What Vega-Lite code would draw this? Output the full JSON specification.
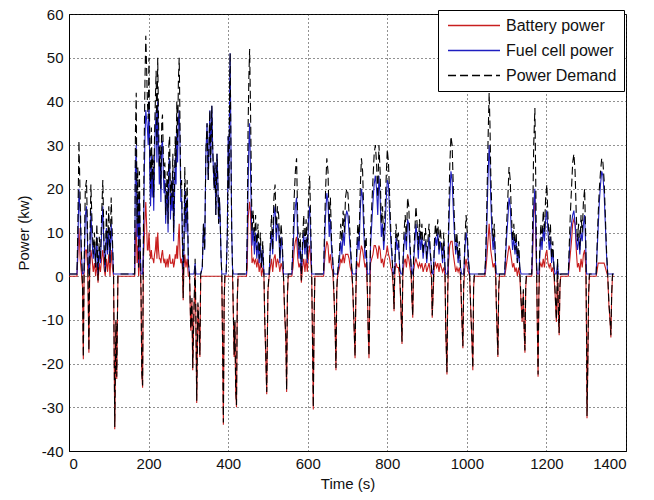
{
 "$schema": "https://vega.github.io/schema/vega-lite/v6.json",
 "width": 557,
 "height": 437,
 "autosize": {"type": "none"},
 "padding": {"left": 69, "top": 14, "right": 28, "bottom": 49},
 "background": "white",
 "config": {"font": "Liberation Sans", "view": {"stroke": "black", "strokeWidth": 1}},
 "data": {"values": [
{"t":0,"b":0,"f":0.5,"d":0.5},
{"t":20,"b":0,"f":0.5,"d":0.5},
{"t":22,"b":4,"f":6,"d":10},
{"t":25,"b":11,"f":20,"d":31},
{"t":28,"b":4,"f":14,"d":18},
{"t":31,"b":1,"f":5,"d":6},
{"t":34,"b":-2.5,"f":0.5,"d":-2},
{"t":36,"b":-19,"f":0.5,"d":-18.5},
{"t":38,"b":1,"f":1,"d":2},
{"t":41,"b":6,"f":14,"d":20},
{"t":44,"b":6,"f":16,"d":22},
{"t":47,"b":2,"f":6,"d":8},
{"t":50,"b":-17.5,"f":0.5,"d":-17},
{"t":52,"b":1,"f":3,"d":4},
{"t":55,"b":6,"f":15,"d":21},
{"t":58,"b":4,"f":8,"d":12},
{"t":61,"b":1,"f":4,"d":5},
{"t":64,"b":3,"f":7,"d":10},
{"t":67,"b":0,"f":2,"d":2},
{"t":70,"b":3,"f":9,"d":12},
{"t":73,"b":-1.5,"f":0.5,"d":-1},
{"t":76,"b":3,"f":6,"d":9},
{"t":79,"b":1,"f":3,"d":4},
{"t":82,"b":4,"f":10,"d":14},
{"t":85,"b":6,"f":16,"d":22},
{"t":88,"b":2,"f":6,"d":8},
{"t":91,"b":0,"f":1,"d":1},
{"t":94,"b":4,"f":11,"d":15},
{"t":97,"b":1,"f":5,"d":6},
{"t":100,"b":5,"f":11,"d":16},
{"t":103,"b":0,"f":3,"d":3},
{"t":106,"b":6,"f":12,"d":18},
{"t":109,"b":2,"f":7,"d":9},
{"t":112,"b":0,"f":0.5,"d":0.5},
{"t":115,"b":-35,"f":0.5,"d":-34.5},
{"t":118,"b":-10.5,"f":0.5,"d":-10},
{"t":120,"b":-23.5,"f":0.5,"d":-23},
{"t":123,"b":0,"f":0.5,"d":0.5},
{"t":165,"b":0,"f":0.5,"d":0.5},
{"t":167,"b":8,"f":25,"d":33},
{"t":169,"b":12,"f":30,"d":42},
{"t":171,"b":3,"f":9,"d":12},
{"t":173,"b":7,"f":18,"d":25},
{"t":175,"b":0,"f":2,"d":2},
{"t":177,"b":6,"f":18,"d":24},
{"t":179,"b":2,"f":6,"d":8},
{"t":181,"b":-3.5,"f":0.5,"d":-3},
{"t":183,"b":-22.5,"f":0.5,"d":-22},
{"t":185,"b":-25.5,"f":0.5,"d":-25},
{"t":187,"b":4,"f":6,"d":10},
{"t":189,"b":8,"f":22,"d":30},
{"t":191,"b":13,"f":32,"d":45},
{"t":193,"b":17,"f":38,"d":55},
{"t":195,"b":12,"f":36,"d":48},
{"t":197,"b":6,"f":34,"d":40},
{"t":199,"b":6,"f":30,"d":36},
{"t":201,"b":10,"f":40,"d":50},
{"t":203,"b":6,"f":24,"d":30},
{"t":205,"b":4,"f":16,"d":20},
{"t":207,"b":6,"f":28,"d":34},
{"t":209,"b":4,"f":18,"d":22},
{"t":211,"b":4,"f":24,"d":28},
{"t":213,"b":3,"f":15,"d":18},
{"t":215,"b":5,"f":27,"d":32},
{"t":217,"b":6,"f":34,"d":40},
{"t":219,"b":9,"f":38,"d":47},
{"t":221,"b":4,"f":26,"d":30},
{"t":223,"b":10,"f":40,"d":50},
{"t":225,"b":6,"f":30,"d":36},
{"t":227,"b":4,"f":21,"d":25},
{"t":229,"b":4,"f":26,"d":30},
{"t":231,"b":3,"f":17,"d":20},
{"t":233,"b":5,"f":30,"d":35},
{"t":235,"b":6,"f":31,"d":37},
{"t":237,"b":4,"f":24,"d":28},
{"t":239,"b":3,"f":19,"d":22},
{"t":241,"b":4,"f":22,"d":26},
{"t":243,"b":2,"f":12,"d":14},
{"t":245,"b":3,"f":17,"d":20},
{"t":247,"b":4,"f":20,"d":24},
{"t":249,"b":2,"f":10,"d":12},
{"t":251,"b":4,"f":26,"d":30},
{"t":253,"b":5,"f":27,"d":32},
{"t":255,"b":3,"f":13,"d":16},
{"t":257,"b":3,"f":19,"d":22},
{"t":259,"b":3,"f":15,"d":18},
{"t":261,"b":4,"f":24,"d":28},
{"t":263,"b":2,"f":8,"d":10},
{"t":265,"b":3,"f":17,"d":20},
{"t":267,"b":5,"f":27,"d":32},
{"t":269,"b":4,"f":21,"d":25},
{"t":271,"b":7,"f":33,"d":40},
{"t":273,"b":4,"f":26,"d":30},
{"t":275,"b":9,"f":36,"d":45},
{"t":277,"b":12,"f":38,"d":50},
{"t":279,"b":5,"f":30,"d":35},
{"t":281,"b":3,"f":17,"d":20},
{"t":283,"b":4,"f":18,"d":22},
{"t":285,"b":2,"f":8,"d":10},
{"t":287,"b":-5.5,"f":0.5,"d":-5},
{"t":289,"b":2,"f":6,"d":8},
{"t":291,"b":5,"f":20,"d":25},
{"t":294,"b":2,"f":10,"d":12},
{"t":297,"b":4,"f":18,"d":22},
{"t":300,"b":0,"f":3,"d":3},
{"t":303,"b":0,"f":0.5,"d":0.5},
{"t":306,"b":-12.5,"f":0.5,"d":-12},
{"t":309,"b":-5.5,"f":0.5,"d":-5},
{"t":311,"b":-21.5,"f":0.5,"d":-21},
{"t":314,"b":-8.5,"f":0.5,"d":-8},
{"t":317,"b":1,"f":3,"d":4},
{"t":319,"b":-10.5,"f":0.5,"d":-10},
{"t":321,"b":-29,"f":0.5,"d":-28.5},
{"t":324,"b":-6.5,"f":0.5,"d":-6},
{"t":327,"b":-12.5,"f":0.5,"d":-12},
{"t":329,"b":-18.5,"f":0.5,"d":-18},
{"t":331,"b":0,"f":0.5,"d":0.5},
{"t":335,"b":0,"f":2,"d":2},
{"t":338,"b":0,"f":12,"d":12},
{"t":341,"b":0,"f":6,"d":6},
{"t":344,"b":0,"f":28,"d":28},
{"t":347,"b":0,"f":35,"d":35},
{"t":350,"b":0,"f":22,"d":22},
{"t":352,"b":0,"f":30,"d":30},
{"t":354,"b":0,"f":38,"d":38},
{"t":356,"b":0,"f":26,"d":26},
{"t":359,"b":0,"f":39,"d":39},
{"t":361,"b":0,"f":30,"d":30},
{"t":363,"b":0,"f":24,"d":24},
{"t":365,"b":0,"f":20,"d":20},
{"t":367,"b":0,"f":26,"d":26},
{"t":369,"b":0,"f":14,"d":14},
{"t":372,"b":0,"f":28,"d":28},
{"t":374,"b":0,"f":22,"d":22},
{"t":376,"b":0,"f":12,"d":12},
{"t":378,"b":0,"f":18,"d":18},
{"t":380,"b":0,"f":13,"d":13},
{"t":382,"b":0,"f":5,"d":5},
{"t":384,"b":0,"f":0.5,"d":0.5},
{"t":386,"b":-15.5,"f":0.5,"d":-15},
{"t":388,"b":-34,"f":0.5,"d":-33.5},
{"t":390,"b":-5.5,"f":0.5,"d":-5},
{"t":392,"b":0,"f":0.5,"d":0.5},
{"t":395,"b":0,"f":0.5,"d":0.5},
{"t":398,"b":0,"f":10,"d":10},
{"t":400,"b":0,"f":32,"d":32},
{"t":402,"b":0,"f":20,"d":20},
{"t":404,"b":0,"f":45,"d":45},
{"t":405,"b":0,"f":51,"d":51},
{"t":407,"b":0,"f":30,"d":30},
{"t":409,"b":0,"f":10,"d":10},
{"t":411,"b":0,"f":2,"d":2},
{"t":413,"b":-8.5,"f":0.5,"d":-8},
{"t":415,"b":-18.5,"f":0.5,"d":-18},
{"t":417,"b":-10.5,"f":0.5,"d":-10},
{"t":419,"b":-26.5,"f":0.5,"d":-26},
{"t":421,"b":-30,"f":0.5,"d":-29.5},
{"t":423,"b":-5.5,"f":0.5,"d":-5},
{"t":425,"b":0,"f":0.5,"d":0.5},
{"t":446,"b":0,"f":0.5,"d":0.5},
{"t":448,"b":2,"f":8,"d":10},
{"t":450,"b":13,"f":20,"d":33},
{"t":452,"b":15,"f":30,"d":45},
{"t":454,"b":17,"f":35,"d":52},
{"t":456,"b":15,"f":25,"d":40},
{"t":458,"b":9,"f":16,"d":25},
{"t":460,"b":3,"f":7,"d":10},
{"t":463,"b":4,"f":11,"d":15},
{"t":466,"b":3,"f":5,"d":8},
{"t":469,"b":4,"f":10,"d":14},
{"t":472,"b":2,"f":4,"d":6},
{"t":475,"b":4,"f":8,"d":12},
{"t":478,"b":1,"f":3,"d":4},
{"t":481,"b":3,"f":7,"d":10},
{"t":484,"b":0,"f":2,"d":2},
{"t":487,"b":2,"f":6,"d":8},
{"t":490,"b":0,"f":0.5,"d":0.5},
{"t":492,"b":-10.5,"f":0.5,"d":-10},
{"t":494,"b":-16.5,"f":0.5,"d":-16},
{"t":497,"b":-27,"f":0.5,"d":-26.5},
{"t":500,"b":-3.5,"f":0.5,"d":-3},
{"t":503,"b":0,"f":0.5,"d":0.5},
{"t":506,"b":2,"f":6,"d":8},
{"t":509,"b":4,"f":10,"d":14},
{"t":512,"b":1,"f":5,"d":6},
{"t":515,"b":4,"f":14,"d":18},
{"t":518,"b":5,"f":16,"d":21},
{"t":521,"b":2,"f":8,"d":10},
{"t":524,"b":4,"f":12,"d":16},
{"t":527,"b":3,"f":11,"d":14},
{"t":530,"b":1,"f":3,"d":4},
{"t":533,"b":3,"f":9,"d":12},
{"t":536,"b":2,"f":6,"d":8},
{"t":539,"b":0,"f":0.5,"d":0.5},
{"t":542,"b":-8.5,"f":0.5,"d":-8},
{"t":545,"b":-14.5,"f":0.5,"d":-14},
{"t":547,"b":-26.5,"f":0.5,"d":-26},
{"t":549,"b":-4.5,"f":0.5,"d":-4},
{"t":551,"b":0,"f":0.5,"d":0.5},
{"t":560,"b":0,"f":0.5,"d":0.5},
{"t":563,"b":2,"f":6,"d":8},
{"t":566,"b":6,"f":12,"d":18},
{"t":569,"b":8,"f":16,"d":24},
{"t":572,"b":9,"f":18,"d":27},
{"t":575,"b":4,"f":8,"d":12},
{"t":578,"b":2,"f":4,"d":6},
{"t":581,"b":3,"f":7,"d":10},
{"t":584,"b":-1.5,"f":0.5,"d":-1},
{"t":587,"b":2,"f":6,"d":8},
{"t":590,"b":4,"f":10,"d":14},
{"t":593,"b":1,"f":5,"d":6},
{"t":596,"b":4,"f":9,"d":13},
{"t":599,"b":1,"f":3,"d":4},
{"t":602,"b":5,"f":13,"d":18},
{"t":605,"b":7,"f":16,"d":23},
{"t":608,"b":3,"f":7,"d":10},
{"t":610,"b":0,"f":0.5,"d":0.5},
{"t":612,"b":-14.5,"f":0.5,"d":-14},
{"t":614,"b":-30.5,"f":0.5,"d":-30},
{"t":616,"b":-10.5,"f":0.5,"d":-10},
{"t":618,"b":0,"f":0.5,"d":0.5},
{"t":640,"b":0,"f":0.5,"d":0.5},
{"t":642,"b":3,"f":7,"d":10},
{"t":645,"b":6,"f":14,"d":20},
{"t":648,"b":8,"f":19,"d":27},
{"t":651,"b":7,"f":17,"d":24},
{"t":654,"b":3,"f":9,"d":12},
{"t":657,"b":5,"f":13,"d":18},
{"t":660,"b":2,"f":6,"d":8},
{"t":663,"b":1,"f":3,"d":4},
{"t":666,"b":-4.5,"f":0.5,"d":-4},
{"t":669,"b":-12.5,"f":0.5,"d":-12},
{"t":671,"b":-21.5,"f":0.5,"d":-21},
{"t":673,"b":-3.5,"f":0.5,"d":-3},
{"t":675,"b":0,"f":0.5,"d":0.5},
{"t":680,"b":2,"f":4,"d":6},
{"t":683,"b":4,"f":8,"d":12},
{"t":686,"b":3,"f":5,"d":8},
{"t":689,"b":5,"f":10,"d":15},
{"t":692,"b":3,"f":7,"d":10},
{"t":695,"b":5,"f":13,"d":18},
{"t":698,"b":5,"f":15,"d":20},
{"t":701,"b":5,"f":14,"d":19},
{"t":704,"b":4,"f":10,"d":14},
{"t":707,"b":2,"f":6,"d":8},
{"t":710,"b":1,"f":2,"d":3},
{"t":713,"b":-2.5,"f":0.5,"d":-2},
{"t":716,"b":-10.5,"f":0.5,"d":-10},
{"t":719,"b":-18.8,"f":0.5,"d":-18.3},
{"t":721,"b":-4.5,"f":0.5,"d":-4},
{"t":723,"b":2,"f":4,"d":6},
{"t":726,"b":3,"f":9,"d":12},
{"t":729,"b":2,"f":6,"d":8},
{"t":732,"b":5,"f":15,"d":20},
{"t":735,"b":7,"f":20,"d":27},
{"t":738,"b":6,"f":18,"d":24},
{"t":741,"b":4,"f":10,"d":14},
{"t":744,"b":2,"f":4,"d":6},
{"t":747,"b":3,"f":6,"d":9},
{"t":750,"b":-3.5,"f":0.5,"d":-3},
{"t":752,"b":-12.5,"f":0.5,"d":-12},
{"t":754,"b":-18.8,"f":0.5,"d":-18.3},
{"t":756,"b":-5.5,"f":0.5,"d":-5},
{"t":758,"b":3,"f":7,"d":10},
{"t":761,"b":4,"f":12,"d":16},
{"t":764,"b":5,"f":17,"d":22},
{"t":767,"b":7,"f":21,"d":28},
{"t":770,"b":7,"f":23,"d":30},
{"t":773,"b":6,"f":20,"d":26},
{"t":776,"b":4,"f":14,"d":18},
{"t":779,"b":7,"f":23,"d":30},
{"t":782,"b":6,"f":18,"d":24},
{"t":785,"b":3,"f":9,"d":12},
{"t":788,"b":4,"f":12,"d":16},
{"t":791,"b":2,"f":6,"d":8},
{"t":794,"b":4,"f":10,"d":14},
{"t":797,"b":5,"f":17,"d":22},
{"t":800,"b":7,"f":22,"d":29},
{"t":803,"b":5,"f":21,"d":26},
{"t":806,"b":4,"f":14,"d":18},
{"t":809,"b":2,"f":8,"d":10},
{"t":812,"b":1,"f":4,"d":5},
{"t":815,"b":-2.5,"f":0.5,"d":-2},
{"t":817,"b":-8,"f":0.5,"d":-7.5},
{"t":819,"b":1,"f":2,"d":3},
{"t":822,"b":3,"f":9,"d":12},
{"t":825,"b":2,"f":6,"d":8},
{"t":828,"b":2,"f":8,"d":10},
{"t":831,"b":0,"f":2,"d":2},
{"t":834,"b":-6.5,"f":0.5,"d":-6},
{"t":837,"b":-15.5,"f":0.5,"d":-15},
{"t":839,"b":0,"f":2,"d":2},
{"t":842,"b":3,"f":7,"d":10},
{"t":845,"b":4,"f":10,"d":14},
{"t":848,"b":2,"f":6,"d":8},
{"t":851,"b":5,"f":13,"d":18},
{"t":854,"b":4,"f":12,"d":16},
{"t":857,"b":2,"f":6,"d":8},
{"t":860,"b":0,"f":2,"d":2},
{"t":862,"b":-5.5,"f":0.5,"d":-5},
{"t":864,"b":-9.5,"f":0.5,"d":-9},
{"t":866,"b":1,"f":3,"d":4},
{"t":869,"b":3,"f":7,"d":10},
{"t":872,"b":4,"f":12,"d":16},
{"t":875,"b":3,"f":9,"d":12},
{"t":878,"b":2,"f":4,"d":6},
{"t":881,"b":3,"f":10,"d":13},
{"t":884,"b":2,"f":6,"d":8},
{"t":887,"b":3,"f":9,"d":12},
{"t":890,"b":1,"f":4,"d":5},
{"t":893,"b":2,"f":7,"d":9},
{"t":896,"b":3,"f":8,"d":11},
{"t":899,"b":1,"f":3,"d":4},
{"t":902,"b":2,"f":6,"d":8},
{"t":905,"b":3,"f":9,"d":12},
{"t":908,"b":1,"f":5,"d":6},
{"t":911,"b":0,"f":2,"d":2},
{"t":913,"b":-9.5,"f":0.5,"d":-9},
{"t":915,"b":-4.5,"f":0.5,"d":-4},
{"t":918,"b":2,"f":5,"d":7},
{"t":921,"b":3,"f":9,"d":12},
{"t":924,"b":2,"f":7,"d":9},
{"t":927,"b":3,"f":10,"d":13},
{"t":930,"b":1,"f":5,"d":6},
{"t":933,"b":3,"f":8,"d":11},
{"t":936,"b":2,"f":6,"d":8},
{"t":939,"b":1,"f":3,"d":4},
{"t":942,"b":2,"f":8,"d":10},
{"t":945,"b":0,"f":2,"d":2},
{"t":947,"b":-12.5,"f":0.5,"d":-12},
{"t":950,"b":-22.5,"f":0.5,"d":-22},
{"t":952,"b":-3.5,"f":0.5,"d":-3},
{"t":954,"b":3,"f":9,"d":12},
{"t":957,"b":7,"f":18,"d":25},
{"t":960,"b":8,"f":24,"d":32},
{"t":963,"b":8,"f":22,"d":30},
{"t":966,"b":5,"f":15,"d":20},
{"t":969,"b":3,"f":9,"d":12},
{"t":972,"b":1,"f":5,"d":6},
{"t":975,"b":2,"f":8,"d":10},
{"t":978,"b":1,"f":3,"d":4},
{"t":981,"b":2,"f":6,"d":8},
{"t":984,"b":0,"f":2,"d":2},
{"t":987,"b":-8.5,"f":0.5,"d":-8},
{"t":990,"b":-16.5,"f":0.5,"d":-16},
{"t":992,"b":-2.5,"f":0.5,"d":-2},
{"t":995,"b":2,"f":6,"d":8},
{"t":998,"b":4,"f":10,"d":14},
{"t":1001,"b":2,"f":8,"d":10},
{"t":1004,"b":1,"f":3,"d":4},
{"t":1007,"b":0,"f":0.5,"d":0.5},
{"t":1010,"b":-8.5,"f":0.5,"d":-8},
{"t":1013,"b":-15.5,"f":0.5,"d":-15},
{"t":1015,"b":-21.5,"f":0.5,"d":-21},
{"t":1017,"b":-2.5,"f":0.5,"d":-2},
{"t":1019,"b":0,"f":0.5,"d":0.5},
{"t":1045,"b":0,"f":0.5,"d":0.5},
{"t":1047,"b":1,"f":3,"d":4},
{"t":1050,"b":4,"f":11,"d":15},
{"t":1053,"b":8,"f":22,"d":30},
{"t":1056,"b":12,"f":30,"d":42},
{"t":1058,"b":9,"f":26,"d":35},
{"t":1060,"b":6,"f":18,"d":24},
{"t":1063,"b":4,"f":10,"d":14},
{"t":1066,"b":2,"f":6,"d":8},
{"t":1069,"b":3,"f":9,"d":12},
{"t":1072,"b":1,"f":3,"d":4},
{"t":1074,"b":-6.5,"f":0.5,"d":-6},
{"t":1076,"b":-12.5,"f":0.5,"d":-12},
{"t":1078,"b":-18.5,"f":0.5,"d":-18},
{"t":1080,"b":-3.5,"f":0.5,"d":-3},
{"t":1082,"b":0,"f":0.5,"d":0.5},
{"t":1095,"b":0,"f":0.5,"d":0.5},
{"t":1097,"b":1,"f":4,"d":5},
{"t":1100,"b":3,"f":9,"d":12},
{"t":1103,"b":5,"f":13,"d":18},
{"t":1106,"b":7,"f":18,"d":25},
{"t":1109,"b":6,"f":16,"d":22},
{"t":1112,"b":4,"f":10,"d":14},
{"t":1115,"b":2,"f":6,"d":8},
{"t":1118,"b":3,"f":9,"d":12},
{"t":1121,"b":1,"f":5,"d":6},
{"t":1124,"b":2,"f":8,"d":10},
{"t":1127,"b":0,"f":3,"d":3},
{"t":1130,"b":2,"f":6,"d":8},
{"t":1133,"b":0,"f":2,"d":2},
{"t":1136,"b":-5.5,"f":0.5,"d":-5},
{"t":1139,"b":-10.5,"f":0.5,"d":-10},
{"t":1142,"b":-3.5,"f":0.5,"d":-3},
{"t":1144,"b":-12.5,"f":0.5,"d":-12},
{"t":1146,"b":-17.5,"f":0.5,"d":-17},
{"t":1148,"b":-2.5,"f":0.5,"d":-2},
{"t":1150,"b":0,"f":0.5,"d":0.5},
{"t":1163,"b":0,"f":0.5,"d":0.5},
{"t":1165,"b":4,"f":6,"d":10},
{"t":1168,"b":14,"f":16,"d":30},
{"t":1171,"b":18.5,"f":20,"d":38.5},
{"t":1173,"b":11,"f":12,"d":23},
{"t":1175,"b":2,"f":3,"d":5},
{"t":1177,"b":-10.5,"f":0.5,"d":-10},
{"t":1179,"b":-23,"f":0.5,"d":-22.5},
{"t":1181,"b":-4.5,"f":0.5,"d":-4},
{"t":1183,"b":2,"f":4,"d":6},
{"t":1186,"b":3,"f":9,"d":12},
{"t":1189,"b":2,"f":6,"d":8},
{"t":1192,"b":4,"f":11,"d":15},
{"t":1195,"b":2,"f":8,"d":10},
{"t":1198,"b":5,"f":13,"d":18},
{"t":1201,"b":6,"f":15,"d":21},
{"t":1204,"b":3,"f":10,"d":13},
{"t":1207,"b":2,"f":6,"d":8},
{"t":1210,"b":3,"f":9,"d":12},
{"t":1213,"b":1,"f":3,"d":4},
{"t":1216,"b":2,"f":6,"d":8},
{"t":1219,"b":0,"f":2,"d":2},
{"t":1222,"b":-4.5,"f":0.5,"d":-4},
{"t":1225,"b":-10.5,"f":0.5,"d":-10},
{"t":1228,"b":1,"f":3,"d":4},
{"t":1230,"b":-8.5,"f":0.5,"d":-8},
{"t":1232,"b":-13.5,"f":0.5,"d":-13},
{"t":1234,"b":-2.5,"f":0.5,"d":-2},
{"t":1236,"b":0,"f":0.5,"d":0.5},
{"t":1255,"b":0,"f":0.5,"d":0.5},
{"t":1257,"b":2,"f":4,"d":6},
{"t":1260,"b":5,"f":9,"d":14},
{"t":1263,"b":8,"f":12,"d":20},
{"t":1266,"b":12,"f":14,"d":26},
{"t":1269,"b":13,"f":15,"d":28},
{"t":1272,"b":12,"f":12,"d":24},
{"t":1275,"b":6,"f":8,"d":14},
{"t":1278,"b":2,"f":6,"d":8},
{"t":1281,"b":3,"f":9,"d":12},
{"t":1284,"b":1,"f":5,"d":6},
{"t":1287,"b":4,"f":10,"d":14},
{"t":1290,"b":2,"f":8,"d":10},
{"t":1293,"b":5,"f":12,"d":17},
{"t":1296,"b":6,"f":14,"d":20},
{"t":1299,"b":2,"f":6,"d":8},
{"t":1301,"b":-15.5,"f":0.5,"d":-15},
{"t":1302,"b":-32.5,"f":0.5,"d":-32},
{"t":1304,"b":-20.5,"f":0.5,"d":-20},
{"t":1306,"b":-4.5,"f":0.5,"d":-4},
{"t":1308,"b":0,"f":0.5,"d":0.5},
{"t":1325,"b":0,"f":0.5,"d":0.5},
{"t":1327,"b":1,"f":5,"d":6},
{"t":1330,"b":3,"f":11,"d":14},
{"t":1333,"b":3,"f":17,"d":20},
{"t":1336,"b":3,"f":21,"d":24},
{"t":1339,"b":3,"f":24,"d":27},
{"t":1342,"b":3,"f":23,"d":26},
{"t":1345,"b":3,"f":19,"d":22},
{"t":1348,"b":2,"f":12,"d":14},
{"t":1351,"b":1,"f":5,"d":6},
{"t":1354,"b":0,"f":0.5,"d":0.5},
{"t":1357,"b":-6.5,"f":0.5,"d":-6},
{"t":1360,"b":-10.5,"f":0.5,"d":-10},
{"t":1362,"b":-14,"f":0.5,"d":-13.5},
{"t":1364,"b":-4.5,"f":0.5,"d":-4},
{"t":1366,"b":0,"f":0.5,"d":0.5},
{"t":1370,"b":0,"f":0.5,"d":0.5}
 ]},
 "transform": [{"fold": ["b", "f", "d"], "as": ["series", "value"]}],
 "mark": {"type": "line", "strokeWidth": 1.1, "clip": true},
 "encoding": {
  "x": {"field": "t", "type": "quantitative",
   "scale": {"domain": [0, 1400], "nice": false},
   "axis": {"values": [0, 200, 400, 600, 800, 1000, 1200, 1400], "title": "Time (s)",
    "labelExpr": "toString(datum.value)",
    "grid": true, "gridDash": [1, 3], "gridColor": "#222", "gridWidth": 1,
    "ticks": false, "domainColor": "black", "labelPadding": 5,
    "labelFontSize": 15, "labelColor": "#111", "titleFontSize": 15, "titleFontWeight": "normal",
    "titleColor": "#111", "titlePadding": 5}},
  "y": {"field": "value", "type": "quantitative",
   "scale": {"domain": [-40, 60], "nice": false},
   "axis": {"values": [-40, -30, -20, -10, 0, 10, 20, 30, 40, 50, 60], "title": "Power (kw)",
    "labelExpr": "toString(datum.value)",
    "grid": true, "gridDash": [1, 3], "gridColor": "#222", "gridWidth": 1,
    "ticks": false, "domainColor": "black", "labelPadding": 6,
    "labelFontSize": 15, "labelColor": "#111", "titleFontSize": 15, "titleFontWeight": "normal",
    "titleColor": "#111", "titlePadding": 10}},
  "color": {"field": "series", "type": "nominal",
   "scale": {"domain": ["b", "f", "d"], "range": ["#c81e1e", "#1e1ec0", "#000000"]},
   "legend": {"title": null, "orient": "none", "legendX": 369, "legendY": -4,
    "symbolType": "M-0.73,0H6.2", "symbolSize": 225, "symbolStrokeWidth": 1.5,
    "labelFontSize": 16, "labelColor": "#111", "labelOffset": 44,
    "strokeColor": "black", "fillColor": "white", "padding": 7, "rowPadding": 8,
    "labelExpr": "datum.label == 'b' ? 'Battery power' : datum.label == 'f' ? 'Fuel cell power' : 'Power Demand'"}},
  "strokeDash": {"field": "series", "type": "nominal",
   "scale": {"domain": ["b", "f", "d"], "range": [[1, 0], [1, 0], [8, 4]]},
   "legend": {"title": null, "orient": "none", "legendX": 369, "legendY": -4,
    "symbolType": "M-0.73,0H6.2", "symbolSize": 225, "symbolStrokeWidth": 1.5,
    "labelFontSize": 16, "labelColor": "#111", "labelOffset": 44,
    "strokeColor": "black", "fillColor": "white", "padding": 7, "rowPadding": 8,
    "labelExpr": "datum.label == 'b' ? 'Battery power' : datum.label == 'f' ? 'Fuel cell power' : 'Power Demand'"}}
 }
}
